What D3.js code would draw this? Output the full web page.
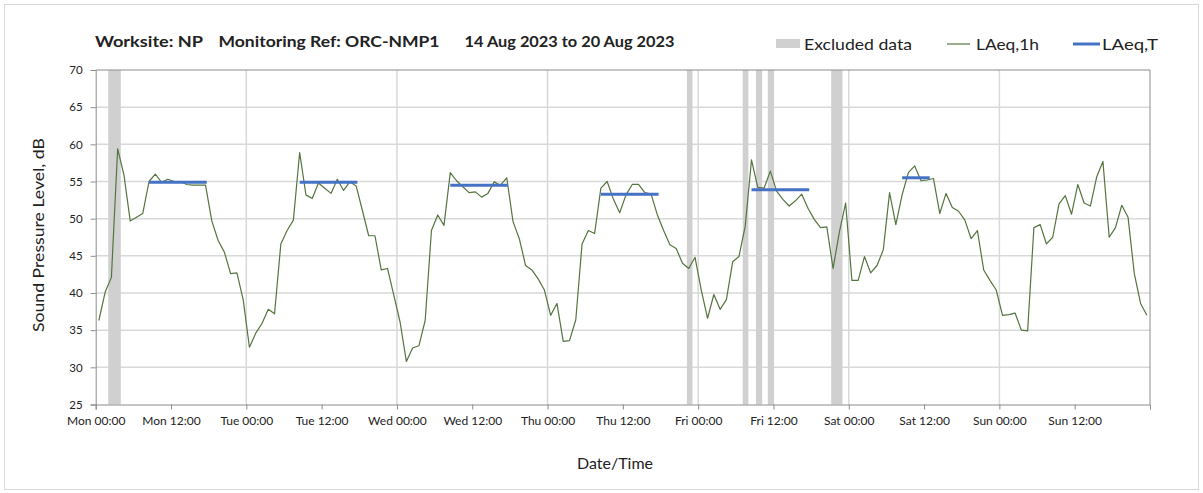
<!DOCTYPE html>
<html><head><meta charset="utf-8">
<script src="https://cdn.jsdelivr.net/npm/d3@7"></script>
<style>body{margin:0;background:#fff;} text{font-family:Lato,"Open Sans",sans-serif;fill:#222;}</style>
</head><body><svg id="c" width="1203" height="493"></svg>
<script>
// LAeq,1h hourly values, Mon 00:00 .. Sun 23:00 (14-20 Aug 2023)
const laeq1h = [
36.3,40.1,42.1,59.4,55.9,49.7,50.2,50.7,55.0,56.0,54.9,55.3,55.0,55.0,54.6,54.5,54.5,54.5,49.7,47.1,45.5,42.6,42.7,39.1,
32.7,34.6,35.9,37.8,37.2,46.6,48.4,49.8,58.9,53.2,52.7,54.8,54.1,53.4,55.3,53.8,54.95,54.4,51.1,47.7,47.7,43.1,43.3,39.7,
36.1,30.8,32.6,32.9,36.3,48.4,50.5,49.1,56.2,55.1,54.3,53.5,53.6,52.9,53.4,54.95,54.5,55.5,49.6,47.3,43.7,43.1,41.9,40.4,
37.0,38.6,33.5,33.6,36.4,46.6,48.4,48.0,54.1,55.0,52.6,50.8,53.2,54.6,54.6,53.5,53.3,50.5,48.4,46.5,46.0,44.0,43.3,44.8,
40.4,36.6,39.8,37.8,39.1,44.2,44.9,49.0,57.9,54.2,54.1,56.4,53.7,52.6,51.7,52.4,53.3,51.4,49.9,48.8,48.9,43.3,48.2,52.1,
41.7,41.7,44.9,42.7,43.7,45.8,53.5,49.2,53.2,56.2,57.1,55.1,55.2,55.4,50.7,53.4,51.5,51.0,49.8,47.3,48.4,43.1,41.7,40.4,
37.0,37.1,37.3,35.0,34.9,48.8,49.2,46.6,47.5,52.0,53.1,50.6,54.6,52.1,51.7,55.6,57.7,47.5,48.8,51.8,50.2,42.6,38.6,37.0
];
// LAeq,T period segments (hours from Mon 00:00)
const periodStart = [8.5, 32.5, 56.5, 80.5, 104.5, 128.5];
const periodEnd   = [17.7, 41.7, 65.7, 89.7, 113.7, 132.9];
const periodValue = [54.9, 54.9, 54.5, 53.3, 53.9, 55.5];
// Excluded data periods (hours from Mon 00:00)
const excludedStart = [2.0, 94.2, 103.1, 105.2, 107.1, 117.2];
const excludedEnd   = [4.0, 95.1, 104.0, 106.2, 108.1, 119.0];
// Axis ticks
const xTickHours = [0,12,24,36,48,60,72,84,96,108,120,132,144,156,168];
const xTickLabels = ["Mon 00:00","Mon 12:00","Tue 00:00","Tue 12:00","Wed 00:00","Wed 12:00","Thu 00:00","Thu 12:00","Fri 00:00","Fri 12:00","Sat 00:00","Sat 12:00","Sun 00:00","Sun 12:00",""];
const yTicks = [25,30,35,40,45,50,55,60,65,70];
const dayBoundaries = [24,48,72,96,120,144];

const svg = d3.select("#c");
const L = 95.7, R = 1150, T = 70, B = 404.5;
const x = d3.scaleLinear().domain([0,168]).range([L,R]);
const y = d3.scaleLinear().domain([25,70]).range([B,T]);

// outer frame
svg.append("rect").attr("x",4.5).attr("y",4.5).attr("width",1194).attr("height",485)
  .attr("fill","none").attr("stroke","#d9d9d9");

// grid
const g = svg.append("g");
g.selectAll(".hg").data(yTicks.filter(d=>d>25 && d<70)).join("line")
  .attr("x1",L).attr("x2",R).attr("y1",d=>y(d)).attr("y2",d=>y(d))
  .attr("stroke","#d9d9d9").attr("stroke-width",1.5);
g.selectAll(".vg").data(dayBoundaries).join("line")
  .attr("x1",d=>x(d)).attr("x2",d=>x(d)).attr("y1",T).attr("y2",B)
  .attr("stroke","#d9d9d9").attr("stroke-width",1.5);

// excluded bands
svg.append("g").selectAll("rect").data(excludedStart).join("rect")
  .attr("x",(d)=>x(d)).attr("width",(d,i)=>x(excludedEnd[i])-x(d))
  .attr("y",T).attr("height",B-T).attr("fill","#d0d0d0");

// frame top/right
svg.append("line").attr("x1",L).attr("x2",R).attr("y1",T).attr("y2",T).attr("stroke","#8c8c8c");
svg.append("line").attr("x1",R).attr("x2",R).attr("y1",T).attr("y2",B).attr("stroke","#8c8c8c");

// axes
const yAxis = d3.axisLeft(y).tickValues(yTicks).tickSize(5).tickPadding(8).tickFormat(d3.format("d"));
const ya = svg.append("g").attr("transform",`translate(${L},0)`).call(yAxis);
const xAxis = d3.axisBottom(x).tickValues(xTickHours).tickSize(5).tickPadding(7)
  .tickFormat((d,i)=>xTickLabels[i]);
const xa = svg.append("g").attr("transform",`translate(0,${B})`).call(xAxis);
[ya,xa].forEach(a=>{
  a.select(".domain").attr("stroke","#8c8c8c");
  a.selectAll(".tick line").attr("stroke","#8c8c8c");
  a.selectAll("text").style("font-family","Lato, 'Open Sans', sans-serif").style("font-size","12px").attr("fill","#222");
});
ya.selectAll("text").style("font-size","11.5px");

// LAeq,1h line
const line = d3.line().x((d,i)=>x(i+0.5)).y(d=>y(d));
svg.append("path").datum(laeq1h).attr("d",line).attr("fill","none")
  .attr("stroke","#55743f").attr("stroke-width",1.2).attr("stroke-linejoin","round");

// LAeq,T segments
svg.append("g").selectAll("line").data(periodStart).join("line")
  .attr("x1",d=>x(d)).attr("x2",(d,i)=>x(periodEnd[i]))
  .attr("y1",(d,i)=>y(periodValue[i])).attr("y2",(d,i)=>y(periodValue[i]))
  .attr("stroke","#4472c4").attr("stroke-width",3);

// title
const titleParts = [["Worksite: NP",95,108],["Monitoring Ref: ORC-NMP1",218.5,221],["14 Aug 2023 to 20 Aug 2023",464.5,210]];
svg.selectAll(".title").data(titleParts).join("text")
  .attr("x",d=>d[1]).attr("y",47).attr("textLength",d=>d[2]).attr("lengthAdjust","spacingAndGlyphs")
  .style("font-size","16px").style("font-weight","bold").attr("fill","#111").text(d=>d[0]);

// legend
svg.append("rect").attr("x",776).attr("y",39).attr("width",24).attr("height",9).attr("fill","#d0d0d0");
svg.append("text").attr("x",804).attr("y",50).attr("textLength",108).attr("lengthAdjust","spacingAndGlyphs")
  .style("font-size","16px").text("Excluded data");
svg.append("line").attr("x1",947).attr("x2",970).attr("y1",44).attr("y2",44).attr("stroke","#55743f").attr("stroke-width",1.2);
svg.append("text").attr("x",976).attr("y",50).attr("textLength",63).attr("lengthAdjust","spacingAndGlyphs")
  .style("font-size","16px").text("LAeq,1h");
svg.append("line").attr("x1",1073).attr("x2",1100).attr("y1",44).attr("y2",44).attr("stroke","#4472c4").attr("stroke-width",3);
svg.append("text").attr("x",1102).attr("y",50).attr("textLength",56).attr("lengthAdjust","spacingAndGlyphs")
  .style("font-size","16px").text("LAeq,T");

// axis titles
svg.append("text").attr("transform","translate(44,235) rotate(-90)").attr("text-anchor","middle")
  .attr("textLength",194).attr("lengthAdjust","spacingAndGlyphs")
  .style("font-size","16px").text("Sound Pressure Level, dB");
svg.append("text").attr("x",615).attr("y",469).attr("text-anchor","middle")
  .style("font-size","16px").text("Date/Time");
</script></body></html>
